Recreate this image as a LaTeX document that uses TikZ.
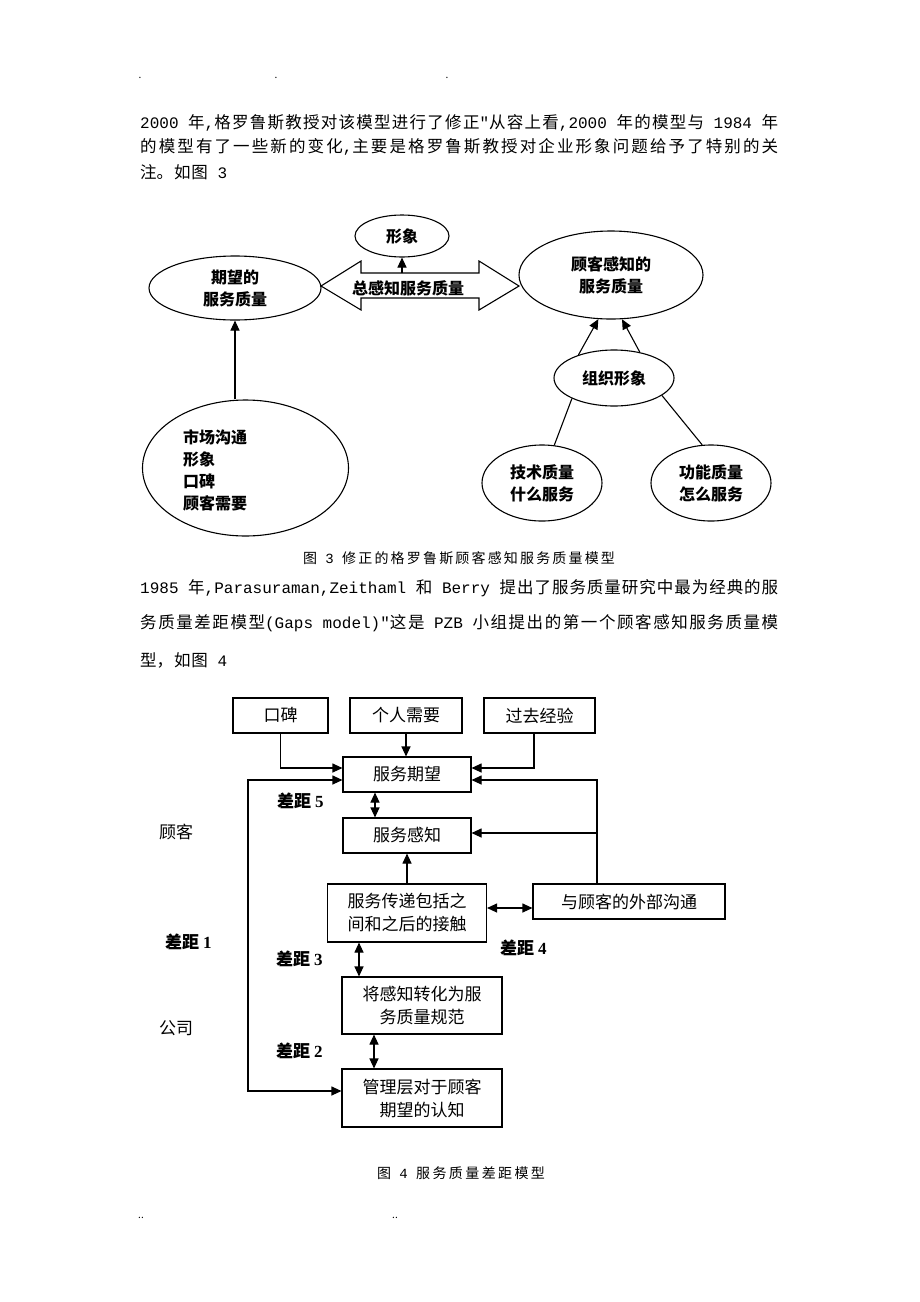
\documentclass[tikz,border=0pt]{standalone}
\usepackage{fontspec}
\setmainfont{Noto Sans CJK SC}
\newfontfamily\monof{Liberation Mono}
\newfontfamily\serf{Liberation Serif}
\usetikzlibrary{shapes.geometric,arrows.meta,calc}
\newcommand\jline[2]{\parbox{#1}{\XeTeXlinebreaklocale "zh"\XeTeXlinebreakskip=0pt plus 1fil\relax\parfillskip=0pt\relax\noindent #2}}
\newcommand\bodyf{\fontsize{16.5pt}{19pt}\selectfont}
\newcommand\asc{\monof\fontsize{16pt}{19pt}\selectfont}
\newcommand\capf{\fontsize{14pt}{16pt}\selectfont}
\newcommand\capasc{\monof\fontsize{14pt}{16pt}\selectfont}
\newcommand\figthree{\fontsize{16pt}{22pt}\selectfont\bfseries}
\newcommand\figfour{\fontsize{17pt}{23pt}\selectfont}
\newcommand\gapf{\fontsize{17pt}{20pt}\selectfont\bfseries}
\begin{document}
\begin{tikzpicture}[x=1pt,y=-1pt,
  every node/.style={inner sep=0pt},
  ell/.style={draw, ellipse, line width=1.1pt, inner sep=0pt, font=\figthree, align=center},
  box/.style={draw, rectangle, line width=1.1pt, inner sep=0pt, font=\figfour, align=center},
  ln/.style={line width=1.1pt},
  arr/.style={line width=1.1pt, -{Triangle[length=10pt,width=9pt]}},
  darr/.style={line width=1.1pt, {Triangle[length=10pt,width=9pt]}-{Triangle[length=10pt,width=9pt]}},
  gap/.style={font=\gapf, anchor=west},
  lab/.style={font=\figfour, anchor=west},
  body/.style={font=\bodyf, anchor=west},
  dot/.style={font=\fontsize{10pt}{10pt}\selectfont}]
\fill[white] (0,0) rectangle (920,1302);
\useasboundingbox (0,0) rectangle (920,1302);

% dots
\node[dot] (d1) at (140,78) {.};
\node[dot] (d2) at (276,78) {.};
\node[dot] (d3) at (447,78) {.};
\node[dot] (d4) at (141,1218) {..};
\node[dot] (d5) at (395,1218) {..};

% paragraph 1
\node[body] (p1a) at (140,123) {\jline{638pt}{{\asc 2000 }年{\asc ,}格罗鲁斯教授对该模型进行了修正{\asc "}从容上看{\asc ,2000 }年的模型与{\asc\ 1984 }年}};
\node[body] (p1b) at (140,147) {\jline{638pt}{的模型有了一些新的变化{\asc ,}主要是格罗鲁斯教授对企业形象问题给予了特别的关}};
\node[body] (p1c) at (140,172) {\jline{87pt}{注。如图{\asc\ 3}}};

% figure 3
\node[ell, minimum width=94pt, minimum height=42pt] (xx) at (402,236) {形象};
\node[ell, minimum width=172pt, minimum height=64pt] (qw) at (235,288) {期望的\\服务质量};
\node[ell, minimum width=184pt, minimum height=88pt] (gk) at (611,275) {顾客感知的\\服务质量};
\node[ell, minimum width=206pt, minimum height=136pt] (sc) at (245.5,468) {};
\node[font=\figthree, align=left, anchor=west] (sct) at (183,470) {市场沟通\\形象\\口碑\\顾客需要};
\node[ell, minimum width=120pt, minimum height=56pt] (zz) at (614,378) {组织形象};
\node[ell, minimum width=120pt, minimum height=76pt] (js) at (542,483) {技术质量\\什么服务};
\node[ell, minimum width=120pt, minimum height=76pt] (gn) at (711,483) {功能质量\\怎么服务};

\draw[ln] (321,286) -- (361,261) -- (361,273) -- (479,273) -- (479,261) -- (519,286)
  -- (479,310) -- (479,298) -- (361,298) -- (361,310) -- cycle;
\node[font=\figthree] (zg) at (408,288) {总感知服务质量};
\coordinate (st) at (402,273);
\draw[arr] (st) -- (xx.south);
\draw[arr] (qw.south |- sc.north) -- (qw.south);
\draw[arr] (zz.147) -- (gk.254);
\draw[arr] (zz.45) -- (gk.284);
\draw[ln] (js.72) -- (zz.206);
\draw[ln] (gn.103) -- (zz.340);

\node[font=\capf] (cap3) at (459,558) {\jline{312pt}{图{\capasc\ 3 }修正的格罗鲁斯顾客感知服务质量模型}};

% paragraph 2
\node[body] (p2a) at (140,588) {\jline{638pt}{{\asc 1985 }年{\asc ,Parasuraman,Zeithaml }和{\asc\ Berry }提出了服务质量研究中最为经典的服}};
\node[body] (p2b) at (140,623) {\jline{638pt}{务质量差距模型{\asc (Gaps model)"}这是{\asc\ PZB }小组提出的第一个顾客感知服务质量模}};
\node[body] (p2c) at (140,660) {\jline{87pt}{型，如图{\asc\ 4}}};

% figure 4
\node[box, minimum width=95pt, minimum height=35pt] (kb) at (280.5,715.5) {口碑};
\node[box, minimum width=112pt, minimum height=35pt] (gr) at (406,715.5) {个人需要};
\node[box, minimum width=111pt, minimum height=35pt] (gq) at (539.5,715.5) {过去经验};
\node[box, minimum width=128pt, minimum height=35pt] (qw4) at (407,774.5) {服务期望};
\node[box, minimum width=128pt, minimum height=35pt] (gz) at (407,835.5) {服务感知};
\node[box, minimum width=159pt, minimum height=58pt] (cd) at (407,913) {服务传递包括之\\间和之后的接触};
\node[box, minimum width=192pt, minimum height=35pt] (wb) at (629,901.5) {与顾客的外部沟通};
\node[box, minimum width=160pt, minimum height=57pt] (zh) at (422,1005.5) {将感知转化为服\\务质量规范};
\node[box, minimum width=160pt, minimum height=58pt] (gl) at (422,1098) {管理层对于顾客\\期望的认知};

\draw[arr] (kb.south) |- ([yshift=6.5pt]qw4.west);
\draw[arr] (gr.south) -- (gr.south |- qw4.north);
\draw[arr] ([xshift=-5.5pt]gq.south) |- ([yshift=6.5pt]qw4.east);
\coordinate (wbn) at ([xshift=-32pt]wb.north);
\coordinate (gze) at ([yshift=2.5pt]gz.east);
\draw[arr] (wbn) |- ([yshift=-5.5pt]qw4.east);
\draw[arr] (wbn |- gze) -- (gze);
\draw[darr] ([xshift=-32pt]qw4.south) -- ([xshift=-32pt]gz.north);
\draw[arr] (cd.north) -- (cd.north |- gz.south);
\coordinate (cde) at ([yshift=5pt]cd.east);
\draw[darr] (cde) -- (cde -| wb.west);
\coordinate (cds) at ([xshift=-48pt]cd.south);
\draw[darr] (cds) -- (cds |- zh.north);
\coordinate (zhs) at ([xshift=-48pt]zh.south);
\draw[darr] (zhs) -- (zhs |- gl.north);
\coordinate (lx) at (248,1000);
\draw[darr] ([yshift=-5.5pt]qw4.west) -| (lx) |- ([yshift=7pt]gl.west);

\node[gap] (g5) at (277,801) {差距 {\serf\bfseries 5}};
\node[gap] (g1) at (165,942) {差距 {\serf\bfseries 1}};
\node[gap] (g3) at (276,959) {差距 {\serf\bfseries 3}};
\node[gap] (g2) at (276,1051) {差距 {\serf\bfseries 2}};
\node[gap] (g4) at (500,948) {差距 {\serf\bfseries 4}};
\node[lab] (gk4) at (159,832) {顾客};
\node[lab] (gs) at (159,1028) {公司};

\node[font=\capf] (cap4) at (461,1173) {\jline{168pt}{图{\capasc\ 4 }服务质量差距模型}};
\end{tikzpicture}
\end{document}
